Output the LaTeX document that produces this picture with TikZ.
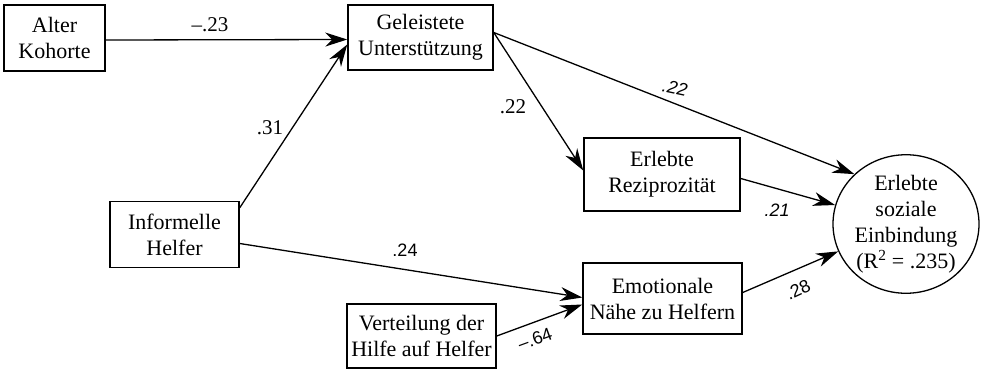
\documentclass[tikz,border=0pt]{standalone}
\usepackage{fontspec}
\setmainfont{Liberation Serif}
\newfontfamily\labsans{Liberation Sans}
\usetikzlibrary{arrows.meta,shapes.geometric}
\begin{document}
\begin{tikzpicture}[x=1pt,y=-1pt,
  boxnode/.style={draw,line width=1.5pt,inner sep=0pt,align=center,
    font=\fontsize{22}{26}\selectfont},
  arr/.style={line width=1.3pt,-{Stealth[length=22pt,width=14pt,inset=7pt]}},
  serlab/.style={font=\fontsize{21}{26}\selectfont,inner sep=0pt},
  sanslab/.style={font=\labsans\fontsize{18}{22}\selectfont,inner sep=0pt}]
\useasboundingbox (0,0) rectangle (987,369);

% variables
\node[boxnode,minimum width=101pt,minimum height=66pt] (ak) at (54.5,38) {Alter\\Kohorte};
\node[boxnode,minimum width=145pt,minimum height=65pt] (gu) at (420.5,37.5) {Geleistete\\Unterstützung};
\node[boxnode,minimum width=129pt,minimum height=66pt] (ih) at (174.5,234.5) {Informelle\\Helfer};
\node[boxnode,minimum width=156pt,minimum height=73pt] (er) at (662,174.5) {Erlebte\\Reziprozität};
\node[boxnode,minimum width=159pt,minimum height=71pt] (en) at (662.5,298.5) {Emotionale\\Nähe zu Helfern};
\node[boxnode,minimum width=149pt,minimum height=64pt] (vh) at (421.5,336) {Verteilung der\\Hilfe auf Helfer};
\node[boxnode,ellipse,line width=1.3pt,minimum width=146pt,minimum height=132pt] (ese) at (906,224)
  {Erlebte\\soziale\\Einbindung\\(R\textsuperscript{2} = .235)};

% paths
\draw[arr] ([yshift=-2pt]ak.east) -- ([yshift=-2pt]gu.west);
\draw[arr] ([yshift=-7pt]ih.north east) -- ([yshift=-7pt]gu.west);
\draw[arr] ([yshift=5pt]gu.east) -- ([yshift=4pt]er.west);
\draw[arr] ([yshift=5pt]gu.east) -- (ese.136);
\draw[arr] ([yshift=-4pt]er.east) -- (ese.165);
\draw[arr] ([yshift=6pt]en.east) -- (ese.202);
\draw[arr] ([yshift=-9pt]ih.east) -- ([yshift=1pt]en.west);
\draw[arr] (vh.east) -- ([yshift=-6pt]en.west);

% coefficients
\node[serlab] (c1) at (210,25) {\textendash.23};
\node[serlab] (c2) at (270,128) {.31};
\node[serlab] (c3) at (513,107) {.22};
\node[sanslab,rotate=-12] (c4) at (675,88) {\itshape .22};
\node[sanslab] (c5) at (777,210) {\itshape .21};
\node[sanslab] (c6) at (405,250) {.24};
\node[sanslab,rotate=20] (c7) at (535,339) {\textendash.64};
\node[sanslab,rotate=25] (c8) at (798,290) {.28};
\end{tikzpicture}
\end{document}
